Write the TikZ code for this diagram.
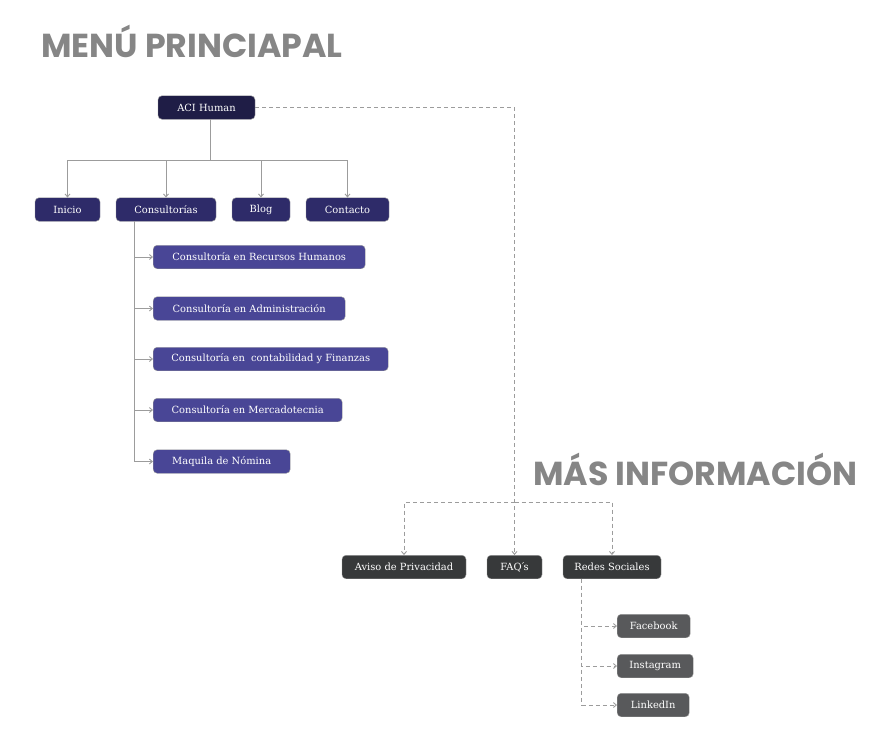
\documentclass[tikz,border=0pt]{standalone}
\usepackage{fontspec}
\setmainfont{DejaVu Serif}
\newfontfamily\titlefont{Poppins}
\usetikzlibrary{arrows.meta}
\definecolor{navyosc}{HTML}{1F1D46}
\definecolor{navy}{HTML}{2E2B69}
\definecolor{violeta}{HTML}{494696}
\definecolor{grisosc}{HTML}{37393A}
\definecolor{grismed}{HTML}{58595B}
\definecolor{linea}{HTML}{9C9C9C}
\definecolor{titulo}{HTML}{868686}
\tikzset{caja/.style={rounded corners=4pt, text=white, draw=black!40, line width=0.4pt,
    	font=\fontsize{9.9}{11}\selectfont, minimum height=23.5pt, inner sep=0pt},
    	rama/.style={draw=linea, line width=0.9pt, -{Straight Barb[length=3pt,width=5pt]}},
    	punteado/.style={draw=linea, line width=0.9pt, dash pattern=on 4pt off 3pt,
    	-{Straight Barb[length=3pt,width=5pt]}},
    	titular/.style={anchor=west, text=titulo, inner sep=0pt,
    	font=\titlefont\bfseries\fontsize{33.2}{36}\selectfont}}

\begin{document}
\begin{tikzpicture}[x=1pt,y=-1pt]
		\useasboundingbox (0,0) rectangle (888,740);
		% titulos
		\node[titular] (menu) at (41,41) {MENÚ PRINCIAPAL};
		\node[titular] (info) at (533,469) {MÁS INFORMACIÓN};
		% menu principal
		\node[caja, fill=navyosc, minimum width=97pt] (aci) at (206.5,107.5) {ACI Human};
		\node[caja, fill=navy, minimum width=65pt] (inicio) at (67.5,209.5) {Inicio};
		\node[caja, fill=navy, minimum width=100pt] (consult) at (166,209.5) {Consultorías};
		\node[caja, fill=navy, minimum width=58pt] (blog) at (261,209.5) {Blog};
		\node[caja, fill=navy, minimum width=83pt] (contacto) at (347.5,209.5) {Contacto};
		\node[caja, fill=violeta, minimum width=212pt, anchor=west] (rh) at (153,257) {Consultoría en Recursos Humanos};
		\node[caja, fill=violeta, minimum width=192pt, anchor=west] (adm) at (153,308.5) {Consultoría en Administración};
		\node[caja, fill=violeta, minimum width=235pt, anchor=west] (fin) at (153,359) {Consultoría en\ \ contabilidad y Finanzas};
		\node[caja, fill=violeta, minimum width=189pt, anchor=west] (merc) at (153,410) {Consultoría en Mercadotecnia};
		\node[caja, fill=violeta, minimum width=137pt, anchor=west] (nomina) at (153,461.5) {Maquila de Nómina};
		% mas informacion
		\node[caja, fill=grisosc, minimum width=124pt] (aviso) at (404,567) {Aviso de Privacidad};
		\node[caja, fill=grisosc, minimum width=55pt] (faq) at (514.5,567) {FAQ\kern-1.5pt´\kern-1.5pt s};
		\node[caja, fill=grisosc, minimum width=98pt] (redes) at (612,567) {Redes Sociales};
		\node[caja, fill=grismed, minimum width=73pt, anchor=west] (fb) at (617,626) {Facebook};
		\node[caja, fill=grismed, minimum width=76pt, anchor=west] (ig) at (617,666) {Instagram};
		\node[caja, fill=grismed, minimum width=72pt, anchor=west] (li) at (617,705) {LinkedIn};
		% conectores
		\coordinate (nudo) at ([xshift=4pt]aci.south |- 0,160);
		\draw[rama, -] ([xshift=4pt]aci.south) -- (nudo);
		\draw[rama] (nudo) -| (inicio);
		\draw[rama] (nudo) -| (consult);
		\draw[rama] (nudo) -| (blog);
		\draw[rama] (nudo) -| (contacto);
		\coordinate (tronco) at ([xshift=-19pt]rh.south west |- consult.south);
		\draw[rama] (tronco) |- (rh);
		\draw[rama] (tronco) |- (adm);
		\draw[rama] (tronco) |- (fin);
		\draw[rama] (tronco) |- (merc);
		\draw[rama] (tronco) |- (nomina);
		\draw[punteado] (aci) -| (faq);
		\coordinate (cruce) at (faq.north |- 0,502);
		\draw[punteado] (cruce) -| (aviso);
		\draw[punteado] (cruce) -| (redes);
		\coordinate (bajada) at ([xshift=19pt]redes.south west);
		\draw[punteado] (bajada) |- (fb);
		\draw[punteado] (bajada) |- (ig);
		\draw[punteado] (bajada) |- (li);
\end{tikzpicture}
\end{document}
